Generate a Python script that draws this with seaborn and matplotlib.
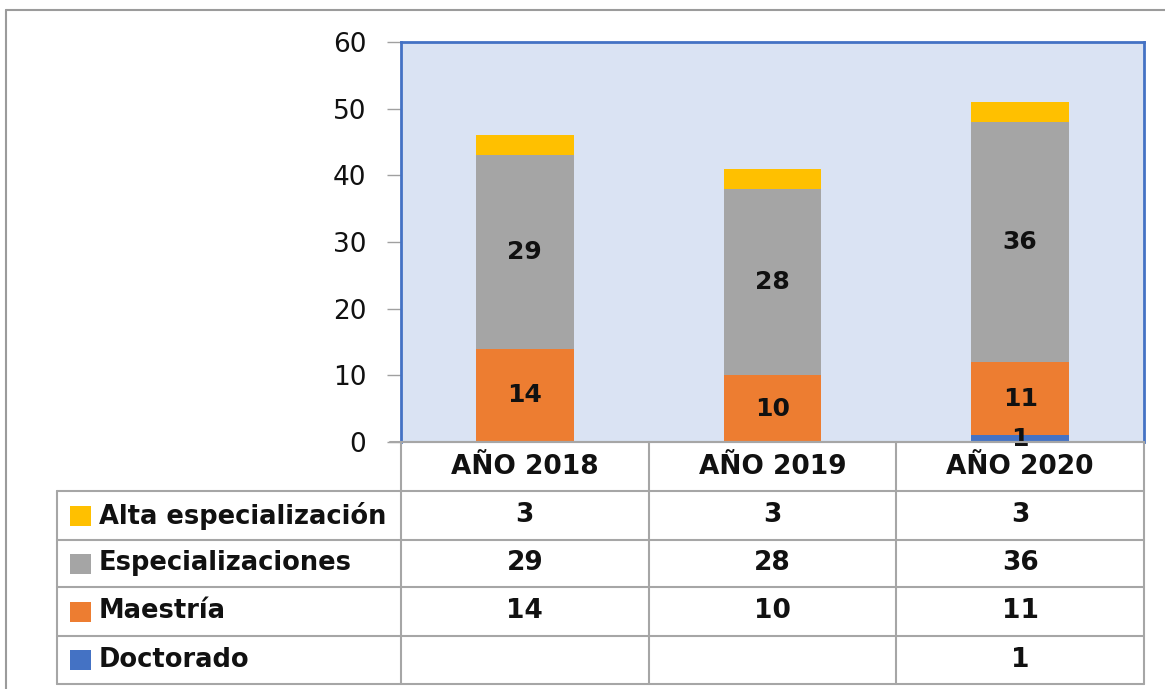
import numpy as np
import matplotlib
matplotlib.use("Agg")
import matplotlib.pyplot as plt
from matplotlib.lines import Line2D
from matplotlib.patches import Rectangle
import seaborn as sns

# data
years = ["AÑO 2018", "AÑO 2019", "AÑO 2020"]
series = ["Alta especialización", "Especializaciones", "Maestría", "Doctorado"]
alta = [3, 3, 3]
especializaciones = [29, 28, 36]
maestria = [14, 10, 11]
doctorado = [None, None, 1]

colors = {"Alta especialización": "#FFC000", "Especializaciones": "#A5A5A5",
          "Maestría": "#ED7D31", "Doctorado": "#4472C4"}
values = {"Alta especialización": alta, "Especializaciones": especializaciones,
          "Maestría": maestria, "Doctorado": doctorado}
show_labels = {"Alta especialización": False, "Especializaciones": True,
               "Maestría": True, "Doctorado": True}

sns.set_style("white")
plt.rcParams["font.family"] = ["DejaVu Sans"]

W, H = 1165, 689
fig = plt.figure(figsize=(W / 100, H / 100), dpi=100)


def px_rect(x0, y0, x1, y1):
    return [x0 / W, 1 - y1 / H, (x1 - x0) / W, (y1 - y0) / H]


# outer frame (only top and left edges visible)
fig.add_artist(Line2D([6 / W, 6 / W], [0, 1 - 10 / H], transform=fig.transFigure,
                      color="#9B9B9B", lw=1.5))
fig.add_artist(Line2D([6 / W, 1], [1 - 10 / H, 1 - 10 / H], transform=fig.transFigure,
                      color="#9B9B9B", lw=1.5))

# main chart
ax = fig.add_axes(px_rect(401, 42, 1144, 442))
ax.set_facecolor("#DAE3F3")
bottom = np.zeros(len(years))
for name in reversed(series):
    vals = np.array([0 if v is None else v for v in values[name]], dtype=float)
    sns.barplot(x=years, y=vals, bottom=bottom, color=colors[name], width=0.395,
                order=years, saturation=1, ax=ax, edgecolor="none", linewidth=0)
    if show_labels[name]:
        labels = ["" if v is None else str(v) for v in values[name]]
        ax.bar_label(ax.containers[-1], labels=labels, label_type="center",
                     fontsize=18, fontweight="bold", color="#111111")
    bottom += vals

ax.set_ylim(0, 60)
ax.set_xlim(-0.5, 2.5)
ax.set_yticks(range(0, 61, 10))
ax.tick_params(axis="y", left=True, length=10, width=1, color="#A0A0A0",
               labelsize=19, pad=15, labelcolor="#111111")
ax.tick_params(axis="x", bottom=False, labelbottom=False)
ax.set_xlabel("")
ax.set_ylabel("")
for side, sp in ax.spines.items():
    sp.set_visible(True)
    sp.set_color("#4472C4")
    sp.set_linewidth(2)
ax.spines["bottom"].set_color("#A9B8D8")
ax.spines["bottom"].set_linewidth(1.5)

# data table below
tx = fig.add_axes(px_rect(50, 438, 1150, 689))
tx.set_xlim(50, 1150)
tx.set_ylim(689, 438)
tx.axis("off")
grid = "#A6A6A6"
col_edges = [401, 648.7, 896.3, 1144]
row_edges = [491, 540, 587, 636, 684]
tx.plot([390, 1144], [442, 442], color=grid, lw=1.5)
for y in row_edges:
    tx.plot([57, 1144], [y, y], color=grid, lw=1.5)
for x in col_edges:
    tx.plot([x, x], [442, 684], color=grid, lw=1.5)
tx.plot([57, 57], [491, 684], color=grid, lw=1.5)

for j, yr in enumerate(years):
    cx = (col_edges[j] + col_edges[j + 1]) / 2
    tx.text(cx, 466.5, yr, ha="center", va="center", fontsize=19,
            fontweight="bold", color="#111111")

for i, name in enumerate(series):
    cy = (row_edges[i] + row_edges[i + 1]) / 2
    tx.add_patch(Rectangle((69.5, cy - 10), 21, 20, color=colors[name], lw=0))
    tx.text(99, cy, name, ha="left", va="center", fontsize=18.5,
            fontweight="bold", color="#111111")
    for j, v in enumerate(values[name]):
        if v is None:
            continue
        cx = (col_edges[j] + col_edges[j + 1]) / 2
        tx.text(cx, cy, str(v), ha="center", va="center", fontsize=19,
                fontweight="bold", color="#111111")

fig.savefig("out.png", dpi=100)
